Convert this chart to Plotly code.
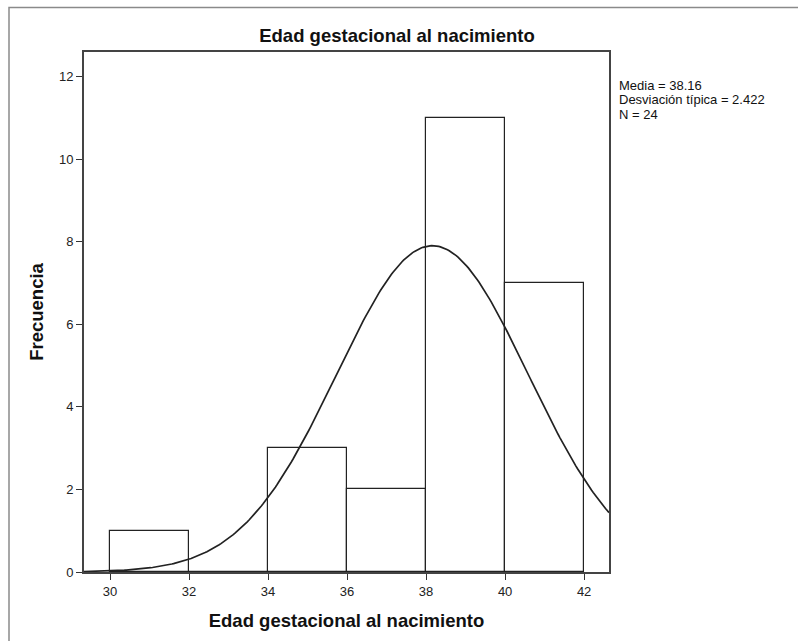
import numpy as np
import plotly.graph_objects as go

# Data
bin_starts = [30, 32, 34, 36, 38, 40]
bin_width = 2
counts = [1, 0, 3, 2, 11, 7]
mean = 38.16
std = 2.422
n = 24
stats_lines = ["Media = 38.16", "Desviación típica = 2.422", "N = 24"]
x_ticks = [30, 32, 34, 36, 38, 40, 42]
y_ticks = [0, 2, 4, 6, 8, 10, 12]
x_range = [29.34, 42.63]
y_range = [0, 12.6]

# Fitted normal curve (from the shown statistics)
xs = np.linspace(x_range[0], x_range[1], 300)
ys = n * bin_width / (std * np.sqrt(2 * np.pi)) * np.exp(-0.5 * ((xs - mean) / std) ** 2)

centers = [s + bin_width / 2 for s in bin_starts]

fig = go.Figure()
fig.add_trace(go.Bar(
    x=centers, y=counts, width=[bin_width] * len(centers),
    marker=dict(color="white", line=dict(color="#222222", width=1.2)),
    hoverinfo="x+y", showlegend=False,
))
fig.add_trace(go.Scatter(
    x=xs, y=ys, mode="lines",
    line=dict(color="#222222", width=1.7),
    showlegend=False, hoverinfo="skip",
))

W, H = 798, 641
L, R, T, B = 84, 609, 52, 572
pw, ph = R - L, B - T

def px2x(px):
    return (px - L) / pw

def px2y(py):
    return (B - py) / ph

annots = []
for i, line in enumerate(stats_lines):
    annots.append(dict(
        xref="paper", yref="paper", x=px2x(617), y=px2y(85 + 14.5 * i),
        xanchor="left", yanchor="middle", text=line, align="left",
        showarrow=False, font=dict(size=13, color="#111111"),
    ))

fig.update_layout(
    width=W, height=H,
    margin=dict(l=L, r=W - R, t=T, b=H - B, pad=0),
    paper_bgcolor="white", plot_bgcolor="white",
    font=dict(family="Liberation Sans, Arial, sans-serif", color="#111111", size=13),
    title=dict(text="<b>Edad gestacional al nacimiento</b>", x=397 / W, xanchor="center",
               y=1 - 36 / H, yanchor="middle", font=dict(size=18.5, color="#111111")),
    bargap=0,
    xaxis=dict(
        range=x_range, tickvals=x_ticks, ticks="outside", ticklen=6, tickwidth=1.2,
        tickcolor="#333333", showgrid=False, zeroline=False, showline=True,
        linecolor="#444444", linewidth=2, mirror=True,
        tickfont=dict(size=13, color="#222222"),
        title=dict(text="<b>Edad gestacional al nacimiento</b>", font=dict(size=18.5, color="#111111"),
                   standoff=16),
    ),
    yaxis=dict(
        range=y_range, tickvals=y_ticks, ticks="outside", ticklen=6, tickwidth=1.2,
        tickcolor="#333333", showgrid=False, zeroline=False, showline=True,
        linecolor="#444444", linewidth=2, mirror=True,
        tickfont=dict(size=13, color="#222222"),
        title=dict(text="<b>Frecuencia</b>", font=dict(size=18.5, color="#111111"), standoff=10),
    ),
    annotations=annots,
    shapes=[dict(
        type="rect", xref="paper", yref="paper",
        x0=px2x(9), x1=px2x(900), y0=px2y(700), y1=px2y(7.5),
        line=dict(color="#8a8a8a", width=1.5), fillcolor="rgba(0,0,0,0)", layer="below",
    )],
)

fig.write_html("out.html", config={"displayModeBar": False},
               post_script="document.body.style.margin='0';")
